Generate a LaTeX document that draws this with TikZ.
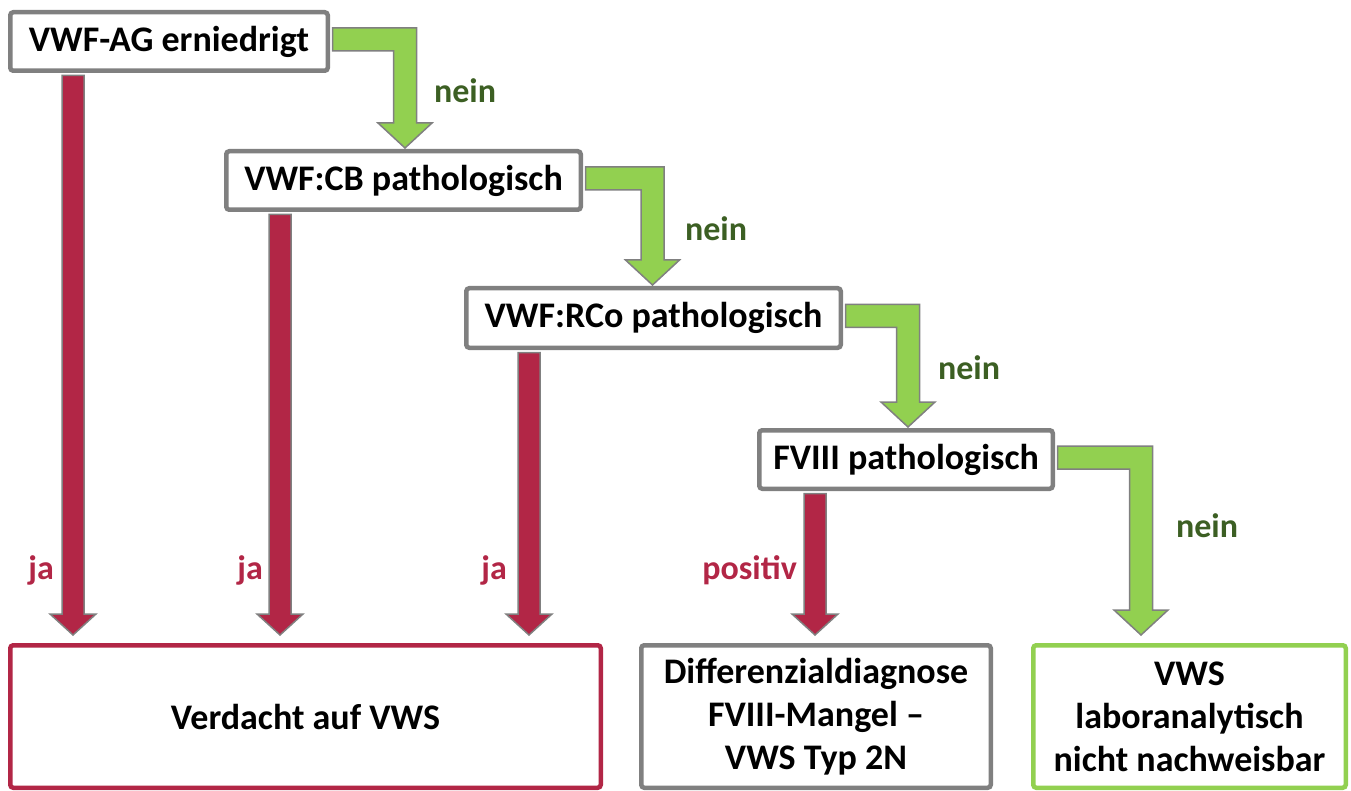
\documentclass[tikz,border=0pt]{standalone}
\usepackage{fontspec}
\setmainfont{Carlito}
\usetikzlibrary{calc}
\definecolor{jared}{HTML}{B22646}
\definecolor{neingreen}{HTML}{92D050}
\definecolor{neintext}{HTML}{3C5F23}
\definecolor{boxgray}{HTML}{808080}
\newcommand{\jaarrow}[3]{%
  \path ($(#1.south west)+(#2,2.5)$) coordinate (top)
        (top |- #3.north) coordinate (tip);
  \filldraw[jaarrow] ($(top)+(-11,0)$) -- ($(top)+(11,0)$) -- ($(tip)+(11,-29)$)
    -- ($(tip)+(23,-29)$) -- ($(tip)+(0,-8)$) -- ($(tip)+(-23,-29)$)
    -- ($(tip)+(-11,-29)$) -- cycle;}
\newcommand{\neinarrow}[2]{%
  \path ($(#1.east)+(2.5,-2)$) coordinate (start) (#2) coordinate (tip)
        (start -| tip) coordinate (bend);
  \filldraw[neinarrow] ($(start)+(0,-11.5)$) -- ($(bend)+(11.5,-11.5)$)
    -- ($(tip)+(11.5,-25)$) -- ($(tip)+(27,-25)$) -- (tip) -- ($(tip)+(-27,-25)$)
    -- ($(tip)+(-11.5,-25)$) -- ($(bend)+(-11.5,11.5)$) -- ($(start)+(0,11.5)$) -- cycle;}

\begin{document}
\begin{tikzpicture}[x=1pt,y=-1pt,
    testbox/.style={draw=boxgray,line width=4.5pt,fill=white,rounded corners=3pt,
      inner sep=0pt,align=center,font=\fontsize{36}{43}\selectfont\bfseries},
    jabox/.style={testbox,draw=jared},
    okbox/.style={testbox,draw=neingreen},
    jaarrow/.style={fill=jared,draw=boxgray,line width=1.5pt},
    neinarrow/.style={fill=neingreen,draw=boxgray,line width=1.5pt},
    jalabel/.style={text=jared,font=\fontsize{34}{40}\selectfont\bfseries,inner sep=0pt},
    neinlabel/.style={text=neintext,font=\fontsize{34}{40}\selectfont\bfseries,inner sep=0pt}]
  \useasboundingbox (0,0) rectangle (1351,791);

  \node[testbox,minimum width=317.5pt,minimum height=58.5pt] (ag) at (169,41.5) {VWF-AG erniedrigt};
  \node[testbox,minimum width=354.5pt,minimum height=58.5pt] (cb) at (403.5,180.5) {VWF:CB pathologisch};
  \node[testbox,minimum width=374.5pt,minimum height=59.5pt] (rco) at (653.5,318) {VWF:RCo pathologisch};
  \node[testbox,minimum width=293.5pt,minimum height=58.5pt] (f8) at (906,459.5) {FVIII pathologisch};

  \node[jabox,minimum width=590.5pt,minimum height=142.5pt] (verdacht) at (305.5,716.5) {Verdacht auf VWS};
  \node[testbox,minimum width=349.5pt,minimum height=142.5pt] (diff) at (816,716.5)
    {Differenzialdiagnose\\FVIII-Mangel --\\VWS Typ 2N};
  \node[okbox,minimum width=312.5pt,minimum height=142.5pt] (vws) at (1189.5,716.5)
    {VWS\\laboranalytisch\\nicht nachweisbar};

  \jaarrow{ag}{65}{verdacht}
  \jaarrow{cb}{56}{verdacht}
  \jaarrow{rco}{65}{verdacht}
  \jaarrow{f8}{58}{diff}

  \neinarrow{ag}{$(cb.north)+(1.5,-1)$}
  \neinarrow{cb}{$(rco.north)+(-1,-1)$}
  \neinarrow{rco}{$(f8.north)+(2,-1)$}
  \neinarrow{f8}{$(vws.north west)+(110,-8)$}

  \node[neinlabel] (nein1) at (465,91) {nein};
  \node[neinlabel] (nein2) at (716,229) {nein};
  \node[neinlabel] (nein3) at (969,368) {nein};
  \node[neinlabel] (nein4) at (1207,526) {nein};

  \node[jalabel,anchor=east] (ja1) at (54,570) {ja};
  \node[jalabel,anchor=east] (ja2) at (263,570) {ja};
  \node[jalabel,anchor=east] (ja3) at (507,570) {ja};
  \node[jalabel,anchor=east] (pos) at (797,570) {positiv};
\end{tikzpicture}
\end{document}
